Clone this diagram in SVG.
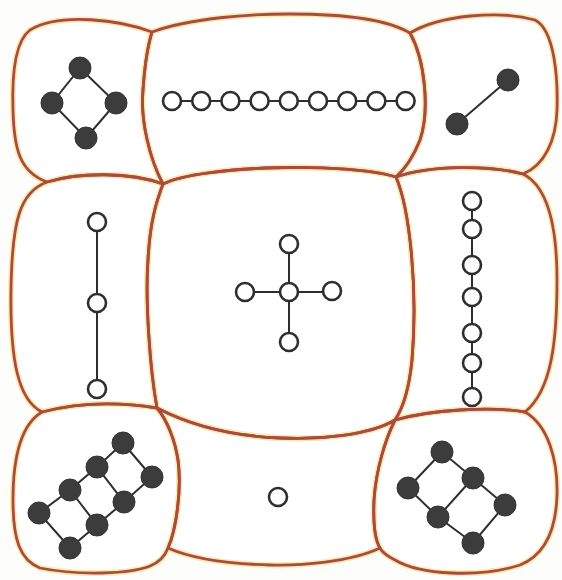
<svg xmlns="http://www.w3.org/2000/svg" width="562" height="580" viewBox="0 0 562 580">
<style>
.halo{fill:#ffffff;stroke:#f8eab2;stroke-width:6;stroke-linejoin:round}
.cell{fill:none;stroke:#ab4a3e;stroke-width:2.8;stroke-linejoin:round}
.o{fill:#ffffff;stroke:#2e2e2e;stroke-width:2.6}
.f{fill:#3c3c3c;stroke:#333;stroke-width:1}
.e{stroke:#2e2e2e;stroke-width:2;fill:none}
</style>
<defs>
<path id="pTL" d="M152,32 C120,20 60,12 30,30 C14,42 12,80 13,110 C14,150 20,172 47,182 C80,172 130,172 163,184 C150,160 140,120 143,90 C145,60 148,45 152,32 Z"/>
<path id="pTM" d="M152,32 C190,18 250,14 290,14 C340,14 385,18 410,33 C425,60 430,110 420,140 C412,160 404,170 396,177 C350,162 200,165 163,184 C150,160 140,120 143,90 C145,60 148,45 152,32 Z"/>
<path id="pTR" d="M410,33 C440,15 500,10 535,20 C555,30 558,80 557,110 C556,140 545,165 523,174 C490,165 430,165 396,177 C404,170 412,160 420,140 C430,110 425,60 410,33 Z"/>
<path id="pML" d="M47,182 C20,192 12,220 11,290 C10,360 18,400 42,412 C80,402 120,402 157,408 C150,370 145,300 148,260 C150,220 157,200 163,184 C130,172 80,172 47,182 Z"/>
<path id="pC" d="M163,184 C200,165 350,162 396,177 C410,210 418,290 412,360 C409,390 403,408 395,420 C370,435 320,440 280,438 C230,436 190,425 157,408 C150,370 145,300 148,260 C150,220 157,200 163,184 Z"/>
<path id="pMR" d="M396,177 C430,165 490,165 523,174 C545,185 557,220 557,280 C557,340 552,390 525,412 C490,406 430,410 395,420 C403,408 409,390 412,360 C418,290 410,210 396,177 Z"/>
<path id="pBL" d="M42,412 C20,425 13,460 13,500 C13,540 20,560 40,568 C80,576 130,574 150,566 C160,562 165,556 168,548 C176,530 182,490 178,460 C175,440 167,420 157,408 C120,402 80,402 42,412 Z"/>
<path id="pBM" d="M157,408 C190,425 230,436 280,438 C320,440 370,435 395,420 C385,440 376,470 374,500 C373,525 375,540 380,548 C350,562 300,566 270,565 C230,564 195,560 168,548 C176,530 182,490 178,460 C175,440 167,420 157,408 Z"/>
<path id="pBR" d="M395,420 C430,410 490,406 525,412 C548,425 558,460 557,495 C556,530 545,555 520,565 C480,578 420,575 395,560 C387,556 382,552 380,548 C375,540 373,525 374,500 C376,470 385,440 395,420 Z"/>
</defs>
<rect width="562" height="580" fill="#fdfdfb"/>
<g id="halos">
<use href="#pTL" class="halo"/><use href="#pTM" class="halo"/><use href="#pTR" class="halo"/>
<use href="#pML" class="halo"/><use href="#pC" class="halo"/><use href="#pMR" class="halo"/>
<use href="#pBL" class="halo"/><use href="#pBM" class="halo"/><use href="#pBR" class="halo"/>
</g>
<g id="cell-top-left"><use href="#pTL" class="cell"/></g>
<g id="cell-top-middle"><use href="#pTM" class="cell"/></g>
<g id="cell-top-right"><use href="#pTR" class="cell"/></g>
<g id="cell-middle-left"><use href="#pML" class="cell"/></g>
<g id="cell-center"><use href="#pC" class="cell"/></g>
<g id="cell-middle-right"><use href="#pMR" class="cell"/></g>
<g id="cell-bottom-left"><use href="#pBL" class="cell"/></g>
<g id="cell-bottom-middle"><use href="#pBM" class="cell"/></g>
<g id="cell-bottom-right"><use href="#pBR" class="cell"/></g>
<g id="connectors" class="e">
<path d="M80,68 L52,103 L86,138 L116,103 Z"/>
<path d="M172,101 H406"/>
<path d="M508,80 L457,124"/>
<path d="M97,222 V389"/>
<path d="M289,244 V342 M245,292 H332"/>
<path d="M472,201 V397"/>
<path d="M123,443 L152,477 L124,502 L97,467 Z M97,467 L70,490 L97,525 L124,502 M70,490 L39,513 L70,548 L97,525"/>
<path d="M442,452 L408,488 L438,517 L473,478 Z M473,478 L505,505 L473,543 L438,517"/>
</g>
<g id="graph-top-left" class="f">
<circle cx="80" cy="68" r="11"/><circle cx="52" cy="103" r="11"/><circle cx="116" cy="103" r="11"/><circle cx="86" cy="138" r="11"/>
</g>
<g id="graph-top-middle" class="o">
<circle cx="172" cy="101" r="9"/><circle cx="201.2" cy="101" r="9"/><circle cx="230.4" cy="101" r="9"/><circle cx="259.6" cy="101" r="9"/><circle cx="288.8" cy="101" r="9"/><circle cx="318" cy="101" r="9"/><circle cx="347.2" cy="101" r="9"/><circle cx="376.4" cy="101" r="9"/><circle cx="405.6" cy="101" r="9"/>
</g>
<g id="graph-top-right" class="f">
<circle cx="508" cy="80" r="11"/><circle cx="457" cy="124" r="11"/>
</g>
<g id="graph-middle-left" class="o">
<circle cx="97" cy="222" r="9"/><circle cx="97" cy="303" r="9"/><circle cx="97" cy="389" r="9"/>
</g>
<g id="graph-center" class="o">
<circle cx="289" cy="292" r="9"/><circle cx="289" cy="244" r="9"/><circle cx="245" cy="292" r="9"/><circle cx="332" cy="291" r="9"/><circle cx="289" cy="342" r="9"/>
</g>
<g id="graph-middle-right" class="o">
<circle cx="472" cy="201" r="9"/><circle cx="472" cy="229" r="9"/><circle cx="472" cy="265" r="9"/><circle cx="472" cy="297" r="9"/><circle cx="472" cy="333" r="9"/><circle cx="472" cy="363" r="9"/><circle cx="472" cy="397" r="9"/>
</g>
<g id="graph-bottom-left" class="f">
<circle cx="123" cy="443" r="11"/><circle cx="152" cy="477" r="11"/><circle cx="97" cy="467" r="11"/><circle cx="124" cy="502" r="11"/><circle cx="70" cy="490" r="11"/><circle cx="97" cy="525" r="11"/><circle cx="39" cy="513" r="11"/><circle cx="70" cy="548" r="11"/>
</g>
<g id="graph-bottom-middle" class="o">
<circle cx="278" cy="497" r="9"/>
</g>
<g id="graph-bottom-right" class="f">
<circle cx="442" cy="452" r="11"/><circle cx="408" cy="488" r="11"/><circle cx="473" cy="478" r="11"/><circle cx="438" cy="517" r="11"/><circle cx="505" cy="505" r="11"/><circle cx="473" cy="543" r="11"/>
</g>
</svg>
